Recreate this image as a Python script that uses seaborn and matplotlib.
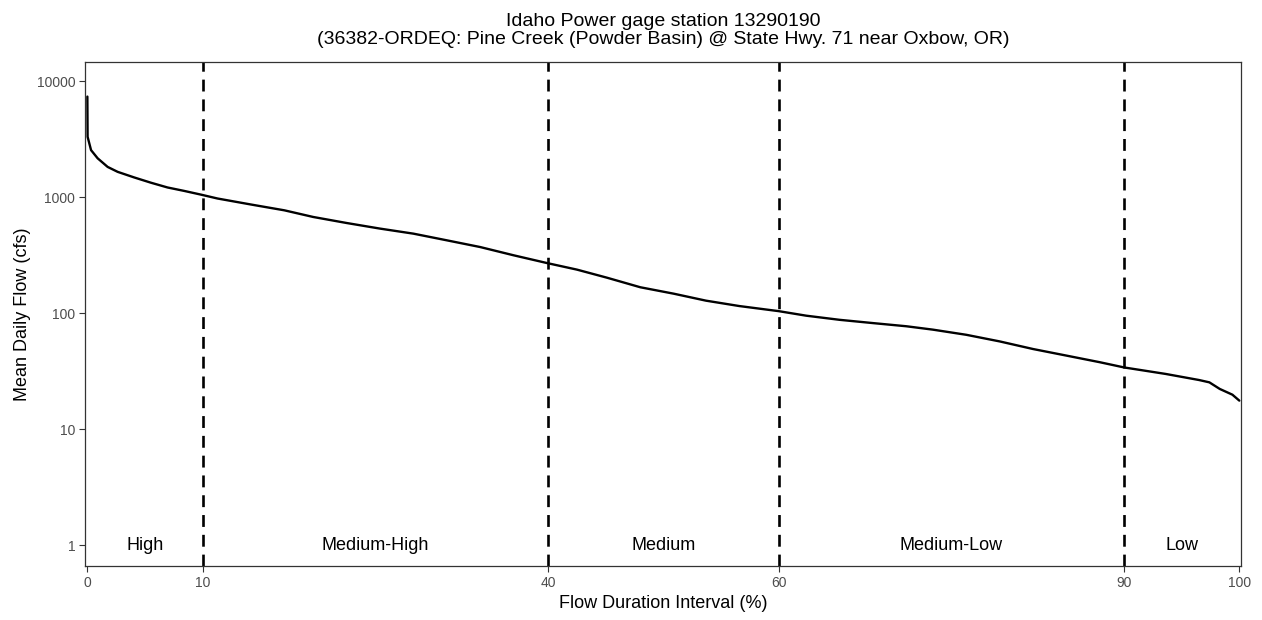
import matplotlib
matplotlib.use("Agg")
import matplotlib.pyplot as plt
import seaborn as sns
import pandas as pd

# Flow duration curve data
pct = [0, 0.02, 0.32, 0.89, 1.76, 2.63, 4.08, 5.52, 6.96, 8.41, 9.86, 11.3,
       14.2, 17.1, 19.6, 22.5, 25.4, 28.3, 31.2, 34.1, 37.0, 39.9, 42.5,
       45.1, 48.0, 50.9, 53.7, 56.6, 60.0, 62.4, 65.3, 68.2, 71.1, 73.4,
       76.3, 79.2, 82.1, 85.0, 87.9, 90.0, 93.6, 96.5, 97.4, 98.3, 99.4, 100]
flow = [7350, 3310, 2540, 2160, 1820, 1650, 1475, 1330, 1210, 1130, 1050, 972,
        863, 769, 674, 598, 535, 484, 424, 371, 315, 270, 237,
        202, 167, 147, 128, 115, 104, 95, 87.5, 82, 77, 72,
        65, 57, 49, 43, 37.7, 34, 29.9, 26.5, 25.3, 22.2, 19.8, 17.6]

zone_breaks = [10, 40, 60, 90]
zone_names = ["High", "Medium-High", "Medium", "Medium-Low", "Low"]
zone_centers = [5, 25, 50, 75, 95]
x_ticks = [0, 10, 40, 60, 90, 100]
y_ticks = [1, 10, 100, 1000, 10000]

title = "Idaho Power gage station 13290190\n(36382-ORDEQ: Pine Creek (Powder Basin) @ State Hwy. 71 near Oxbow, OR)"

sns.set_theme(style="white")
plt.rcParams['font.family'] = ['Liberation Sans', 'DejaVu Sans']

df = pd.DataFrame({"pct": pct, "flow": flow})

fig = plt.figure(figsize=(12.62, 6.2), dpi=100)
ax = fig.add_axes([0.0674, 0.087, 0.9160, 0.813])

sns.lineplot(data=df, x="pct", y="flow", ax=ax, color="black", linewidth=1.7)
ax.set_yscale("log")
ax.set_xlim(-0.2, 100.15)
ax.set_ylim(0.66, 14600)

for b in zone_breaks:
    ax.axvline(b, color="black", linewidth=1.9, linestyle=(0, (4.5, 3)))

for name, c in zip(zone_names, zone_centers):
    ax.text(c, 1, name, ha="center", va="center", fontsize=13, color="black")

ax.set_xticks(x_ticks)
ax.set_xticklabels([str(t) for t in x_ticks])
ax.set_yticks(y_ticks)
ax.set_yticklabels([str(t) for t in y_ticks])
ax.minorticks_off()
ax.tick_params(axis="both", direction="out", length=4, width=0.8, color="#333333",
               labelcolor="#4D4D4D", labelsize=10, bottom=True, left=True, pad=3)

for s in ax.spines.values():
    s.set_color("#333333")
    s.set_linewidth(0.9)

ax.set_xlabel("Flow Duration Interval (%)", fontsize=13, color="black", labelpad=4)
ax.set_ylabel("Mean Daily Flow (cfs)", fontsize=13, color="black", labelpad=4)
ax.set_title(title, fontsize=14, color="black", pad=13, linespacing=1.1)

fig.savefig("out.png", dpi=100)
